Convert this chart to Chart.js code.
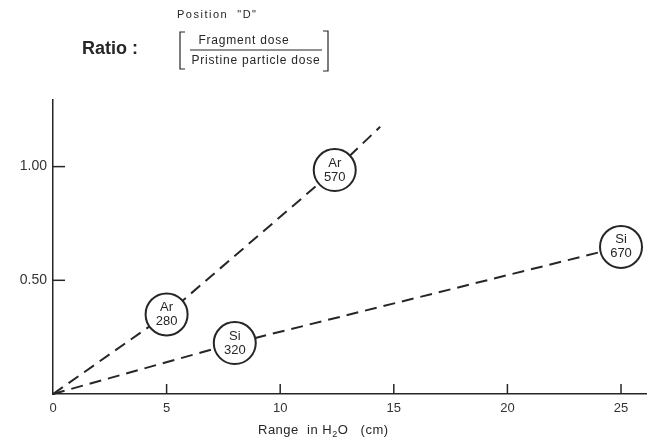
<!DOCTYPE html>
<html>
<head>
  <title>Fragment dose ratio</title>
  <script src="https://cdn.jsdelivr.net/npm/chart.js"></script>
  <style>
    body { margin: 0; background: #fff; }
  </style>
</head>
<body>
  <canvas id="ratioChart" width="657" height="445"></canvas>

  <script>
    // Ar curve (last point is just where the dashed line stops)
    const arRange = [0, 5, 12.4, 14.4];
    const arRatio = [0, 0.35, 0.985, 1.175];
    const arLabels = ['', '280', '570', ''];

    // Si curve
    const siRange = [0, 8, 25];
    const siRatio = [0, 0.224, 0.647];
    const siLabels = ['', '320', '670'];

    const xTicks = [0, 5, 10, 15, 20, 25];
    const yTicks = [0.5, 1.0];

    const ink = '#262626';
    const font = 'Liberation Sans, DejaVu Sans, sans-serif';

    function toPoints(xs, ys) {
      return xs.map((x, i) => ({ x: x, y: ys[i] }));
    }

    // circles for labelled points, nothing for the others
    function radii(labels) {
      return labels.map(l => l ? 21 : 0);
    }

    // header, axis title, inward tick marks and text in the circles
    const extras = {
      id: 'extras',
      afterDraw(chart) {
        const ctx = chart.ctx;
        const xs = chart.scales.x;
        const ys = chart.scales.y;
        ctx.save();
        ctx.strokeStyle = ink;
        ctx.fillStyle = ink;
        ctx.lineWidth = 1.5;

        // tick marks pointing into the plot
        xTicks.forEach(v => {
          const px = xs.getPixelForValue(v);
          if (v === 0) return;
          ctx.beginPath();
          ctx.moveTo(px, ys.bottom);
          ctx.lineTo(px, ys.bottom - 10);
          ctx.stroke();
        });
        yTicks.forEach(v => {
          const py = ys.getPixelForValue(v);
          ctx.beginPath();
          ctx.moveTo(xs.left, py);
          ctx.lineTo(xs.left + 12, py);
          ctx.stroke();
        });

        // labels inside circles
        ctx.textAlign = 'center';
        ctx.textBaseline = 'middle';
        ctx.font = '13px ' + font;
        [['Ar', arLabels, 0], ['Si', siLabels, 1]].forEach(([el, labels, di]) => {
          const meta = chart.getDatasetMeta(di);
          labels.forEach((l, i) => {
            if (!l) return;
            const p = meta.data[i];
            ctx.fillText(el, p.x, p.y - 7);
            ctx.fillText(l, p.x, p.y + 7);
          });
        });

        // x axis title with subscript
        ctx.textAlign = 'left';
        ctx.textBaseline = 'alphabetic';
        ctx.letterSpacing = '0.5px';
        ctx.font = '13px ' + font;
        let tx = 258;
        const ty = 434;
        const parts1 = 'Range  in H';
        ctx.fillText(parts1, tx, ty);
        tx += ctx.measureText(parts1).width;
        ctx.font = '9px ' + font;
        ctx.fillText('2', tx, ty + 3);
        tx += ctx.measureText('2').width;
        ctx.font = '13px ' + font;
        ctx.fillText('O   (cm)', tx, ty);

        // header
        ctx.letterSpacing = '1.5px';
        ctx.font = '11px ' + font;
        ctx.fillText('Position  "D"', 177, 18);
        ctx.letterSpacing = '0px';
        ctx.font = 'bold 18px ' + font;
        ctx.fillText('Ratio :', 82, 54);
        ctx.textAlign = 'center';
        ctx.letterSpacing = '0.8px';
        ctx.font = '12px ' + font;
        ctx.fillText('Fragment dose', 244, 44);
        ctx.fillText('Pristine particle dose', 256, 64);
        ctx.letterSpacing = '0px';

        ctx.lineWidth = 1.2;
        ctx.beginPath();
        ctx.moveTo(190, 50);
        ctx.lineTo(322, 50);
        ctx.stroke();
        ctx.beginPath();
        ctx.moveTo(185, 32);
        ctx.lineTo(180, 32);
        ctx.lineTo(180, 69);
        ctx.lineTo(185, 69);
        ctx.stroke();
        ctx.beginPath();
        ctx.moveTo(323, 31);
        ctx.lineTo(328, 31);
        ctx.lineTo(328, 71);
        ctx.lineTo(323, 71);
        ctx.stroke();
        ctx.restore();
      }
    };

    const lineStyle = {
      borderColor: ink,
      borderWidth: 2,
      borderDash: [12, 7],
      pointBackgroundColor: '#fff',
      pointBorderColor: ink,
      pointBorderWidth: 2,
      pointStyle: 'circle',
      fill: false,
      tension: 0,
      clip: false
    };

    new Chart(document.getElementById('ratioChart'), {
      type: 'line',
      data: {
        datasets: [
          Object.assign({ label: 'Ar', data: toPoints(arRange, arRatio), pointRadius: radii(arLabels) }, lineStyle),
          Object.assign({ label: 'Si', data: toPoints(siRange, siRatio), pointRadius: radii(siLabels) }, lineStyle)
        ]
      },
      options: {
        responsive: false,
        animation: false,
        events: [],
        layout: { autoPadding: false, padding: { top: 100, right: 11, left: 0, bottom: 0 } },
        plugins: {
          legend: { display: false },
          tooltip: { enabled: false }
        },
        scales: {
          x: {
            type: 'linear',
            min: 0,
            max: 26.1,
            afterBuildTicks: s => { s.ticks = xTicks.map(v => ({ value: v })); },
            afterFit: s => { s.height = 51; },
            grid: { display: false, drawTicks: false },
            border: { display: true, color: ink, width: 1.5 },
            ticks: {
              autoSkip: false,
              maxRotation: 0,
              padding: 7,
              color: '#333',
              font: { family: font, size: 13 }
            }
          },
          y: {
            type: 'linear',
            min: 0,
            max: 1.293,
            afterBuildTicks: s => { s.ticks = yTicks.map(v => ({ value: v })); },
            afterFit: s => { s.width = 53; },
            grid: { display: false, drawTicks: false },
            border: { display: true, color: ink, width: 1.5 },
            ticks: {
              padding: 6,
              color: '#333',
              font: { family: font, size: 14 },
              callback: v => v.toFixed(2)
            }
          }
        }
      },
      plugins: [extras]
    });
  </script>
</body>
</html>
